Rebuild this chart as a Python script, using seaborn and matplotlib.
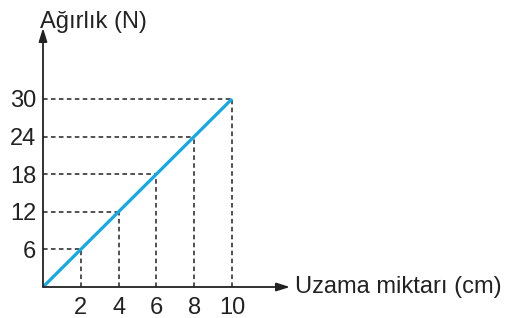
import matplotlib
matplotlib.use("Agg")
import matplotlib.pyplot as plt
import seaborn as sns
import pandas as pd

# Data
uzama = [0, 2, 4, 6, 8, 10]
agirlik = [0, 6, 12, 18, 24, 30]
x_ticks = [2, 4, 6, 8, 10]
y_ticks = [6, 12, 18, 24, 30]

sns.set_style("white")
plt.rcParams['font.family'] = ['Liberation Sans', 'DejaVu Sans']

fig = plt.figure(figsize=(5.12, 3.18), dpi=100)
W, H = 512, 318
ax = fig.add_axes([43 / W, 31 / H, (290 - 43) / W, (287 - 28) / H])
ax.set_xlim(0, (290 - 43) / 18.9)
ax.set_ylim(0, (287 - 28) / 6.27)

df = pd.DataFrame({"x": uzama, "y": agirlik})

# dashed guide lines
for xv, yv in zip(uzama[1:], agirlik[1:]):
    ax.plot([0, xv], [yv, yv], color="#222222", lw=1.1, ls=(0, (3, 2.2)), zorder=1)
    ax.plot([xv, xv], [0, yv], color="#222222", lw=1.1, ls=(0, (3, 2.2)), zorder=1)

sns.lineplot(data=df, x="x", y="y", ax=ax, color="#12A9E6", lw=2.3, zorder=3,
             solid_capstyle="butt")

for s in ax.spines.values():
    s.set_visible(False)

# axes arrows
ax.annotate("", xy=(1, 0), xytext=(0, 0), xycoords="axes fraction",
            arrowprops=dict(arrowstyle="-|>,head_length=0.8,head_width=0.25",
                            color="#222222", lw=1.3,
                            mutation_scale=10, shrinkA=0, shrinkB=0))
ax.annotate("", xy=(0, 1), xytext=(0, 0), xycoords="axes fraction",
            arrowprops=dict(arrowstyle="-|>,head_length=0.8,head_width=0.25",
                            color="#222222", lw=1.3,
                            mutation_scale=10, shrinkA=0, shrinkB=0))

ax.set_xticks(x_ticks)
ax.set_yticks(y_ticks)
ax.set_xticklabels([str(v) for v in x_ticks])
ax.set_yticklabels([str(v) for v in y_ticks])
ax.tick_params(axis="both", length=0, labelsize=17, colors="#222222")
ax.tick_params(axis="x", pad=7)
ax.tick_params(axis="y", pad=5)
ax.set_xlabel("")
ax.set_ylabel("")

fig.text(40 / W, 1 - 28 / H, "Ağırlık (N)", ha="left", va="baseline",
         fontsize=17, color="#222222")
fig.text(295 / W, 1 - 293 / H, "Uzama miktarı (cm)", ha="left", va="baseline",
         fontsize=17, color="#222222")

fig.savefig("out.png", dpi=100)
